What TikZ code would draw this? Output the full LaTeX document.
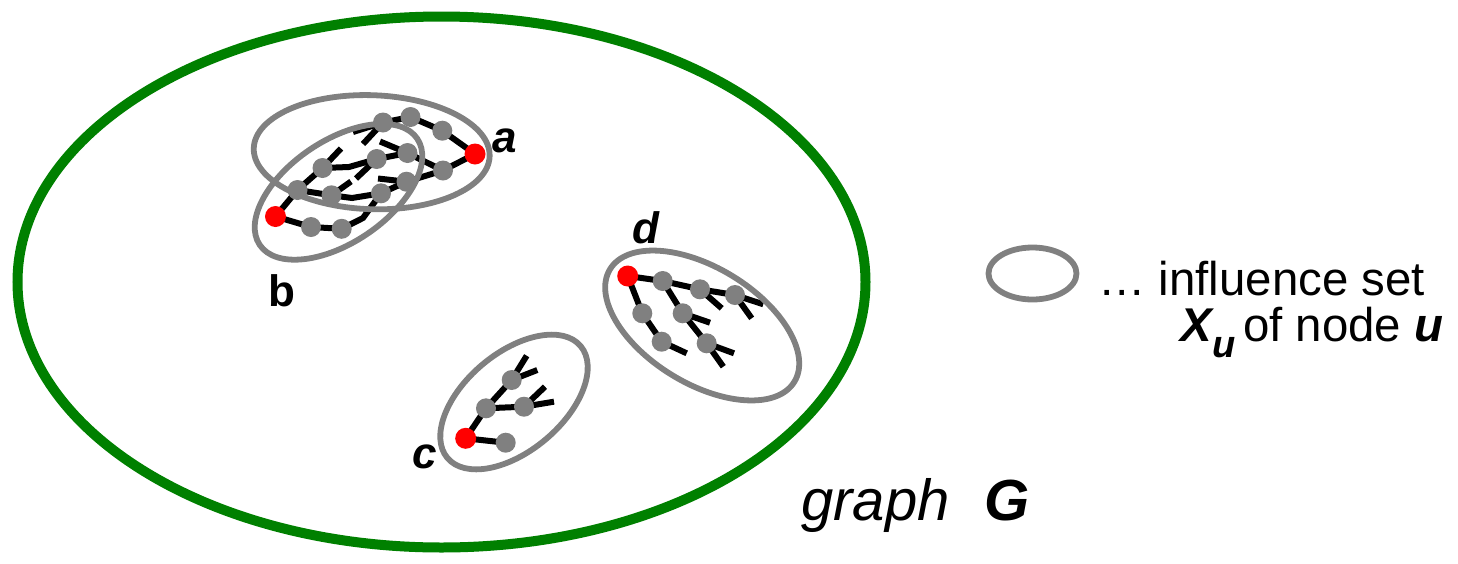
\documentclass[tikz,border=0pt]{standalone}
\usepackage{fontspec}
\setmainfont{Liberation Sans}
\usetikzlibrary{backgrounds}
\definecolor{ggreen}{RGB}{0,128,0}
\definecolor{ngray}{RGB}{128,128,128}
\definecolor{nred}{RGB}{255,0,0}
\begin{document}
\begin{tikzpicture}[x=0.5pt,y=-0.5pt,
  vtx/.style={circle,fill=ngray,inner sep=0pt,minimum size=10pt},
  src/.style={circle,fill=nred,inner sep=0pt,minimum size=10.5pt},
  lnk/.style={line width=3pt,black},
  infset/.style={line width=2.9pt,draw=ngray},
  gframe/.style={line width=5pt,draw=ggreen},
  lbl/.style={font=\fontsize{22pt}{22pt}\selectfont\bfseries\itshape,inner sep=0pt},
  txt/.style={inner sep=0pt,anchor=base west}]
\useasboundingbox (0,0) rectangle (1458,563);

% ---------- cluster a / b ----------
\node[src] (a) at (475,154) {};
\node[src] (b) at (275.5,216.5) {};
\node[vtx] (n1) at (383,122.5) {};
\node[vtx] (n2) at (410.5,117) {};
\node[vtx] (n3) at (442.3,130.7) {};
\node[vtx] (n4) at (407.5,153) {};
\node[vtx] (n5) at (376.7,159) {};
\node[vtx] (n6) at (322.5,168) {};
\node[vtx] (n7) at (443,170.5) {};
\node[vtx] (n8) at (406.5,181.7) {};
\node[vtx] (n9) at (381,193.3) {};
\node[vtx] (n10) at (331.5,195.3) {};
\node[vtx] (n11) at (297.5,190) {};
\node[vtx] (n12) at (311,227) {};
\node[vtx] (n13) at (341.7,228.8) {};
\coordinate (s1) at (353,132);
\coordinate (s2) at (363,144);
\coordinate (s3) at (341,148.5);
\coordinate (s4) at (380,141.5);
\coordinate (s5) at (378,178.5);
\coordinate (s6) at (351,181.5);
\coordinate (s7) at (356,178.5);
\coordinate (k1) at (349,167);
\coordinate (k2) at (352,198);
\coordinate (k3) at (363,218);

% ---------- cluster c ----------
\node[src] (c) at (465.7,438.3) {};
\node[vtx] (c1) at (505.7,442.7) {};
\node[vtx] (c2) at (486,408.3) {};
\node[vtx] (c3) at (524,406.7) {};
\node[vtx] (c4) at (511.7,380) {};
\coordinate (t1) at (526.7,355.7);
\coordinate (t2) at (537.3,370);
\coordinate (t3) at (545,386.7);
\coordinate (t4) at (554,401.7);

% ---------- cluster d ----------
\node[src] (d) at (627.7,276) {};
\node[vtx] (d1) at (662.7,281) {};
\node[vtx] (d2) at (700,289.3) {};
\node[vtx] (d3) at (735,295) {};
\node[vtx] (d4) at (642.3,313.3) {};
\node[vtx] (d5) at (682.7,313.3) {};
\node[vtx] (d6) at (661.7,341.7) {};
\node[vtx] (d7) at (706.7,343.3) {};
\coordinate (u1) at (721.7,308.3);
\coordinate (u2) at (763.3,304.3);
\coordinate (u3) at (751.7,318.3);
\coordinate (u4) at (710,322.7);
\coordinate (u5) at (686.7,353.3);
\coordinate (u6) at (734,353.3);
\coordinate (u7) at (723.3,366.7);

\begin{pgfonlayer}{background}
  % outer graph
  \draw[gframe] (441.5,282) ellipse [x radius=424, y radius=265.5];
  % edges a/b
  \draw[lnk] (a.center) -- (n3.center) -- (n2.center) -- (n1.center);
  \draw[lnk] (a.center) -- (n7.center) -- (n4.center) -- (n5.center);
  \draw[lnk] (n7.center) -- (n8.center) -- (n9.center);
  \draw[lnk] (n5.center) -- (k1) -- (n6.center) -- (n11.center) -- (b.center) -- (n12.center) -- (n13.center);
  \draw[lnk] (n11.center) -- (n10.center) -- (k2) -- (n9.center) -- (k3) -- (n13.center);
  \draw[lnk] (n1.center) -- (s1);
  \draw[lnk] (n1.center) -- (s2);
  \draw[lnk] (n6.center) -- (s3);
  \draw[lnk] (n4.center) -- (s4);
  \draw[lnk] (n8.center) -- (s5);
  \draw[lnk] (n10.center) -- (s6);
  \draw[lnk] (s7) -- (n5.center);
  % edges c
  \draw[lnk] (c1.center) -- (c.center) -- (c2.center) -- (c3.center);
  \draw[lnk] (c2.center) -- (c4.center);
  \draw[lnk] (c4.center) -- (t1);
  \draw[lnk] (c4.center) -- (t2);
  \draw[lnk] (c3.center) -- (t3);
  \draw[lnk] (c3.center) -- (t4);
  % edges d
  \draw[lnk] (d3.center) -- (d2.center) -- (d1.center) -- (d.center) -- (d4.center) -- (d6.center);
  \draw[lnk] (d1.center) -- (d5.center) -- (d7.center);
  \draw[lnk] (d2.center) -- (u1);
  \draw[lnk] (d3.center) -- (u2);
  \draw[lnk] (d3.center) -- (u3);
  \draw[lnk] (d5.center) -- (u4);
  \draw[lnk] (d6.center) -- (u5);
  \draw[lnk] (d7.center) -- (u6);
  \draw[lnk] (d7.center) -- (u7);
  % influence sets
  \draw[infset, rotate around={-2:(371.7,152.2)}] (371.7,152.2) ellipse [x radius=118, y radius=57];
  \draw[infset, rotate around={34:(338.5,191.8)}] (338.5,191.8) ellipse [x radius=95, y radius=51];
  \draw[infset, rotate around={40:(514,402)}] (514,402) ellipse [x radius=87, y radius=49];
  \draw[infset, rotate around={-31.4:(702.2,325.5)}] (702.2,325.5) ellipse [x radius=108, y radius=58];
  % legend
  \draw[infset] (1032.5,273.5) ellipse [x radius=44, y radius=26];
\end{pgfonlayer}

% labels
\node[lbl,anchor=base west] (la) at (492,152) {a};
\node[lbl,font=\fontsize{22pt}{22pt}\selectfont\bfseries,anchor=base] (lb) at (282,306) {b};
\node[lbl,anchor=base] (lc) at (425,468) {c};
\node[lbl,anchor=base] (ld) at (646,243) {d};

\node[txt,font=\fontsize{23.7pt}{23.7pt}\selectfont] (lg1) at (1098,295) {… influence set};
\node[txt,font=\fontsize{23.7pt}{23.7pt}\selectfont] (lg2) at (1180,341)
  {{\bfseries\itshape X\raisebox{-8pt}{\fontsize{19pt}{19pt}\selectfont u}}\hspace{4pt}of node {\bfseries\itshape u}};
\node[txt,font=\fontsize{29pt}{29pt}\selectfont] (gG) at (801,520) {\itshape graph\hspace{0.6em}{\bfseries G}};
\end{tikzpicture}
\end{document}
